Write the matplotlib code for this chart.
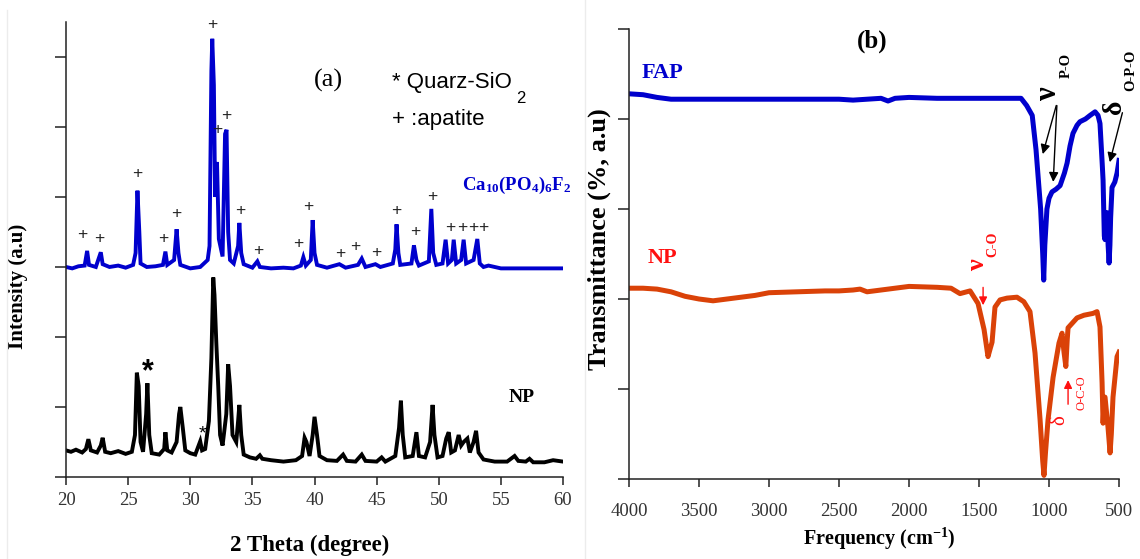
import numpy as np
import matplotlib.pyplot as plt
from matplotlib.lines import Line2D

plt.rcParams['font.family'] = 'Liberation Serif'
plt.rcParams['mathtext.fontset'] = 'custom'
plt.rcParams['mathtext.rm'] = 'Liberation Serif'
plt.rcParams['mathtext.bf'] = 'Liberation Serif:bold'
plt.rcParams['mathtext.it'] = 'Liberation Serif:italic'

# ---- XRD patterns (2 theta in degree, intensity in a.u.) ----
fap_2theta = [20.0, 20.5, 21.0, 21.5, 21.7, 21.85, 22.4, 22.8, 22.95, 23.5, 24.2, 24.8, 25.4, 25.6,
              25.75, 25.9, 26.0, 26.5, 27.2, 27.8, 28.0, 28.15, 28.7, 28.9, 29.05, 29.2, 30.0, 30.8,
              31.4, 31.55, 31.7, 31.77, 31.9, 32.0, 32.15, 32.3, 32.6, 32.8, 32.92, 33.05, 33.2, 33.5,
              33.85, 33.95, 34.1, 34.3, 35.0, 35.4, 35.6, 36.5, 37.5, 38.3, 38.9, 39.1, 39.3, 39.7,
              39.85, 40.0, 40.2, 41.0, 42.0, 42.5, 43.5, 43.8, 44.1, 44.9, 45.3, 46.3, 46.5, 46.6,
              46.75, 46.9, 47.8, 48.0, 48.2, 48.4, 49.2, 49.4, 49.55, 49.8, 50.3, 50.55, 50.75, 51.05,
              51.2, 51.4, 51.8, 52.0, 52.2, 52.8, 53.1, 53.3, 53.6, 54.0, 54.5, 55.0, 60.0]
fap_int = [3.00, 2.98, 3.01, 3.02, 3.23, 3.03, 3.00, 3.21, 3.04, 3.00, 3.02, 2.99, 3.03, 3.20,
           4.09, 3.50, 3.05, 3.00, 3.01, 3.03, 3.22, 3.03, 3.10, 3.54, 3.20, 3.03, 2.98, 3.00,
           3.10, 3.30, 5.80, 6.26, 5.60, 4.00, 4.50, 3.40, 3.15, 4.90, 4.96, 3.50, 3.10, 3.05,
           3.30, 3.63, 3.20, 3.04, 2.99, 3.08, 3.00, 2.98, 2.99, 2.98, 3.02, 3.14, 3.02, 3.10,
           3.67, 3.20, 3.03, 2.99, 3.04, 2.99, 3.03, 3.12, 3.00, 3.04, 3.00, 3.05, 3.25, 3.61,
           3.20, 3.03, 3.05, 3.31, 3.10, 3.02, 3.08, 3.83, 3.20, 3.03, 3.05, 3.39, 3.05, 3.10,
           3.39, 3.05, 3.10, 3.39, 3.05, 3.10, 3.40, 3.05, 3.00, 3.02, 3.00, 2.98, 2.98]

np_2theta = [20.0, 20.4, 20.8, 21.3, 21.6, 21.8, 22.0, 22.5, 22.8, 22.95, 23.15, 23.6, 24.2, 24.8,
             25.3, 25.55, 25.7, 25.85, 26.0, 26.2, 26.45, 26.55, 26.7, 26.9, 27.5, 27.9, 28.0, 28.15,
             28.5, 28.9, 29.1, 29.2, 29.4, 29.6, 30.0, 30.4, 30.8, 30.95, 31.2, 31.5, 31.7, 31.85,
             31.95, 32.1, 32.25, 32.4, 32.6, 32.9, 33.05, 33.2, 33.4, 33.7, 33.85, 33.95, 34.1, 34.3,
             34.8, 35.3, 35.6, 35.8, 36.5, 37.5, 38.5, 39.0, 39.2, 39.35, 39.6, 39.85, 40.0, 40.2,
             40.4, 41.0, 41.8, 42.3, 42.6, 43.3, 43.8, 44.1, 45.0, 45.4, 45.7, 46.5, 46.8, 46.95,
             47.1, 47.3, 47.9, 48.2, 48.4, 48.9, 49.3, 49.5, 49.65, 49.9, 50.3, 50.6, 50.8, 51.0,
             51.3, 51.6, 51.8, 52.0, 52.3, 52.5, 52.8, 53.0, 53.2, 53.6, 54.5, 55.5, 56.1, 56.4,
             57.0, 57.3, 57.6, 58.5, 59.2, 60.0]
np_int = [0.38, 0.36, 0.39, 0.35, 0.40, 0.54, 0.38, 0.35, 0.45, 0.56, 0.36, 0.34, 0.37, 0.33,
          0.36, 0.60, 1.49, 1.30, 0.50, 0.36, 0.90, 1.34, 0.60, 0.34, 0.32, 0.40, 0.64, 0.38,
          0.35, 0.50, 0.90, 1.00, 0.70, 0.38, 0.34, 0.32, 0.51, 0.38, 0.40, 0.80, 1.70, 2.85,
          2.60, 1.90, 1.30, 0.60, 0.45, 0.90, 1.61, 1.30, 0.60, 0.50, 0.80, 1.03, 0.60, 0.32,
          0.28, 0.26, 0.31, 0.26, 0.24, 0.22, 0.24, 0.30, 0.56, 0.50, 0.30, 0.60, 0.86, 0.60,
          0.30, 0.24, 0.23, 0.32, 0.23, 0.22, 0.32, 0.23, 0.22, 0.28, 0.22, 0.30, 0.70, 1.09,
          0.60, 0.28, 0.30, 0.64, 0.30, 0.28, 0.50, 1.03, 0.60, 0.28, 0.30, 0.55, 0.64, 0.35,
          0.38, 0.60, 0.45, 0.50, 0.55, 0.35, 0.50, 0.66, 0.35, 0.25, 0.22, 0.22, 0.30, 0.23,
          0.22, 0.26, 0.21, 0.21, 0.24, 0.22]

# apatite reflections marked with "+"
apatite_2theta = [21.3, 22.7, 25.7, 27.8, 28.9, 31.8, 32.2, 32.9, 34.0, 35.5, 38.7, 39.5, 42.1,
                  43.3, 45.0, 46.6, 48.1, 49.5, 50.9, 51.9, 52.8, 53.6]
apatite_y = [3.46, 3.40, 4.33, 3.41, 3.76, 6.47, 4.96, 5.16, 3.81, 3.24, 3.34, 3.86, 3.19,
             3.29, 3.21, 3.80, 3.51, 4.00, 3.56, 3.56, 3.56, 3.56]

# ---- FTIR spectra (wavenumber in cm-1, transmittance in a.u.) ----
fap_wn = [4000, 3900, 3800, 3700, 3500, 3000, 2500, 2400, 2200, 2150, 2100, 2000, 1800, 1500,
          1300, 1200, 1160, 1120, 1093, 1079, 1060, 1045, 1038, 1030, 1015, 1000, 979, 950, 921,
          890, 871, 850, 829, 800, 779, 740, 707, 671, 650, 636, 620, 614, 605, 600, 593, 586,
          578, 571, 565, 560, 550, 530, 514, 500]
fap_t = [4.28, 4.27, 4.24, 4.22, 4.22, 4.22, 4.22, 4.21, 4.23, 4.20, 4.23, 4.24, 4.23, 4.23,
         4.23, 4.23, 4.15, 4.04, 3.66, 3.38, 3.00, 2.50, 2.21, 2.60, 3.00, 3.12, 3.19, 3.22, 3.26,
         3.40, 3.51, 3.70, 3.84, 3.93, 3.97, 4.00, 4.04, 4.08, 4.04, 3.95, 3.50, 3.32, 2.70, 2.66,
         2.95, 2.96, 2.60, 2.40, 2.60, 2.90, 3.24, 3.30, 3.40, 3.54]

np_wn = [4000, 3900, 3800, 3700, 3600, 3500, 3400, 3300, 3200, 3100, 3000, 2800, 2600, 2500,
         2400, 2350, 2300, 2200, 2000, 1800, 1700, 1636, 1564, 1507, 1464, 1436, 1420, 1407, 1386,
         1350, 1300, 1229, 1180, 1136, 1100, 1064, 1045, 1036, 1025, 1007, 971, 929, 907, 893,
         880, 870, 864, 800, 750, 686, 657, 636, 621, 614, 605, 600, 590, 579, 564, 555, 543,
         514, 500]
np_t = [2.12, 2.12, 2.11, 2.08, 2.03, 2.00, 1.98, 2.00, 2.02, 2.04, 2.07, 2.08, 2.09, 2.09,
        2.10, 2.11, 2.08, 2.10, 2.14, 2.13, 2.12, 2.06, 2.09, 1.95, 1.66, 1.36, 1.45, 1.52, 1.91,
        1.99, 2.01, 2.02, 1.97, 1.86, 1.40, 0.66, 0.20, 0.04, 0.30, 0.66, 1.13, 1.51, 1.62, 1.41,
        1.25, 1.55, 1.68, 1.79, 1.82, 1.84, 1.86, 1.69, 1.07, 0.62, 0.90, 0.91, 0.75, 0.58, 0.29,
        0.50, 0.91, 1.36, 1.41]

xrd_ticks = [20, 25, 30, 35, 40, 45, 50, 55, 60]
ir_ticks = [4000, 3500, 3000, 2500, 2000, 1500, 1000, 500]

blue = '#0000CD'
orange = '#DA4208'
red = '#FF1010'
tick_col = '#333333'

fig = plt.figure(figsize=(11.4, 5.59), dpi=100)

# faint panel borders
fig.add_artist(Line2D([0.006, 0.006], [0, 0.982], color='#ececec', lw=1))
fig.add_artist(Line2D([0.513, 0.513], [0, 1], color='#ececec', lw=1))


def style_axis(ax, pad):
    for s in ['top', 'right']:
        ax.spines[s].set_visible(False)
    for s in ['left', 'bottom']:
        ax.spines[s].set_linewidth(1.1)
        ax.spines[s].set_color('#222222')
    ax.tick_params(axis='y', direction='out', length=8, width=1.1, labelleft=False, color='#222222')
    ax.tick_params(axis='x', direction='out', length=6, width=1.1, labelsize=13.5,
                   labelcolor=tick_col, pad=pad, color='#222222')


# ---- (a) XRD ----
ax1 = fig.add_axes([0.0579, 0.1467, 0.436, 0.814])
ax1.plot(np_2theta, np_int, color='black', lw=2.8, solid_joinstyle='miter')
ax1.plot(fap_2theta, fap_int, color=blue, lw=2.8, solid_joinstyle='miter')
ax1.set_xlim(20, 60)
ax1.set_ylim(0, 6.5)
ax1.set_xticks(xrd_ticks)
ax1.set_yticks(range(7))
style_axis(ax1, 5)
ax1.set_xlabel('2 Theta (degree)', fontsize=16.5, fontweight='bold')
ax1.xaxis.set_label_coords(0.49, -0.128)
ax1.set_ylabel('Intensity (a.u)', fontsize=15, fontweight='bold')
ax1.yaxis.set_label_coords(-0.076, 0.42)

for x, y in zip(apatite_2theta, apatite_y):
    ax1.text(x, y, '+', fontsize=12.5, family='Liberation Sans', color='#222222',
             ha='center', va='center')

ax1.text(41.1, 5.66, '(a)', fontsize=19, ha='center', va='center')
ax1.text(46.2, 5.63, '* Quarz-SiO', fontsize=16, family='Liberation Sans', ha='left', va='center')
ax1.text(56.2, 5.40, '2', fontsize=12, family='Liberation Sans', ha='left', va='center')
ax1.text(46.2, 5.10, '+ :apatite', fontsize=16, family='Liberation Sans', ha='left', va='center')
ax1.text(51.9, 4.17, r'$\mathbf{Ca_{10}(PO_4)_6F_2}$', fontsize=13.5, color=blue,
         ha='left', va='center')
ax1.text(55.6, 1.13, 'NP', fontsize=14, fontweight='bold', ha='left', va='center')
ax1.text(26.6, 1.50, '*', fontsize=22, fontweight='bold', family='Liberation Sans',
         ha='center', va='center')
ax1.text(31.0, 0.62, '*', fontsize=14, family='Liberation Sans', ha='center', va='center')

# ---- (b) FTIR ----
ax2 = fig.add_axes([0.5518, 0.1431, 0.4298, 0.805])
ax2.plot(np_wn, np_t, color=orange, lw=3.6)
ax2.plot(fap_wn, fap_t, color=blue, lw=3.6)
ax2.set_xlim(4000, 500)
ax2.set_ylim(0, 5)
ax2.set_xticks(ir_ticks)
ax2.set_yticks(range(6))
style_axis(ax2, 11)
ax2.set_xlabel(r'Frequency (cm$^{\mathbf{-1}}$)', fontsize=14.5, fontweight='bold')
ax2.xaxis.set_label_coords(0.51, -0.105)
ax2.set_ylabel('Transmittance (%, a.u)', fontsize=19, fontweight='bold')
ax2.yaxis.set_label_coords(-0.037, 0.533)

ax2.text(2264, 4.86, '(b)', fontsize=18, fontweight='bold', ha='center', va='center')
ax2.text(3907, 4.51, 'FAP', fontsize=16, fontweight='bold', color=blue, ha='left', va='center')
ax2.text(3864, 2.46, 'NP', fontsize=16, fontweight='bold', color=red, ha='left', va='center')

# band assignments (rotated)
ax2.text(1007, 4.29, 'ν', fontsize=22, fontweight='bold', rotation=90, ha='center', va='center')
ax2.text(878, 4.60, 'P-O', fontsize=10.5, fontweight='bold', rotation=90, ha='center', va='center')
ax2.text(529, 4.13, 'δ', fontsize=20, fontweight='bold', rotation=90, ha='center', va='center')
ax2.text(414, 4.54, 'O-P-O', fontsize=10.5, fontweight='bold', rotation=90, ha='center',
         va='center', clip_on=False)
ax2.text(1507, 2.38, 'ν', fontsize=19, fontweight='bold', rotation=90, color=red,
         ha='center', va='center')
ax2.text(1400, 2.61, 'C-O', fontsize=10, fontweight='bold', rotation=90, color=red,
         ha='center', va='center')
ax2.text(921, 0.66, 'δ', fontsize=15, rotation=90, color=red, ha='center', va='center')
ax2.text(771, 0.96, 'O-C-O', fontsize=9, rotation=90, color=red, ha='center', va='center')

arrow_k = dict(arrowstyle='-|>', color='black', lw=1.0, mutation_scale=14)
ax2.annotate('', xy=(1050, 3.58), xytext=(943, 4.18), arrowprops=arrow_k)
ax2.annotate('', xy=(971, 3.27), xytext=(943, 4.18), arrowprops=arrow_k)
ax2.annotate('', xy=(571, 3.49), xytext=(471, 4.10), arrowprops=arrow_k,
             annotation_clip=False)
arrow_r = dict(arrowstyle='-|>', color=red, lw=1.0, mutation_scale=12)
ax2.annotate('', xy=(1471, 1.90), xytext=(1471, 2.16), arrowprops=arrow_r)
ax2.annotate('', xy=(864, 1.13), xytext=(864, 0.80), arrowprops=arrow_r)

fig.savefig('out.png', dpi=100)
